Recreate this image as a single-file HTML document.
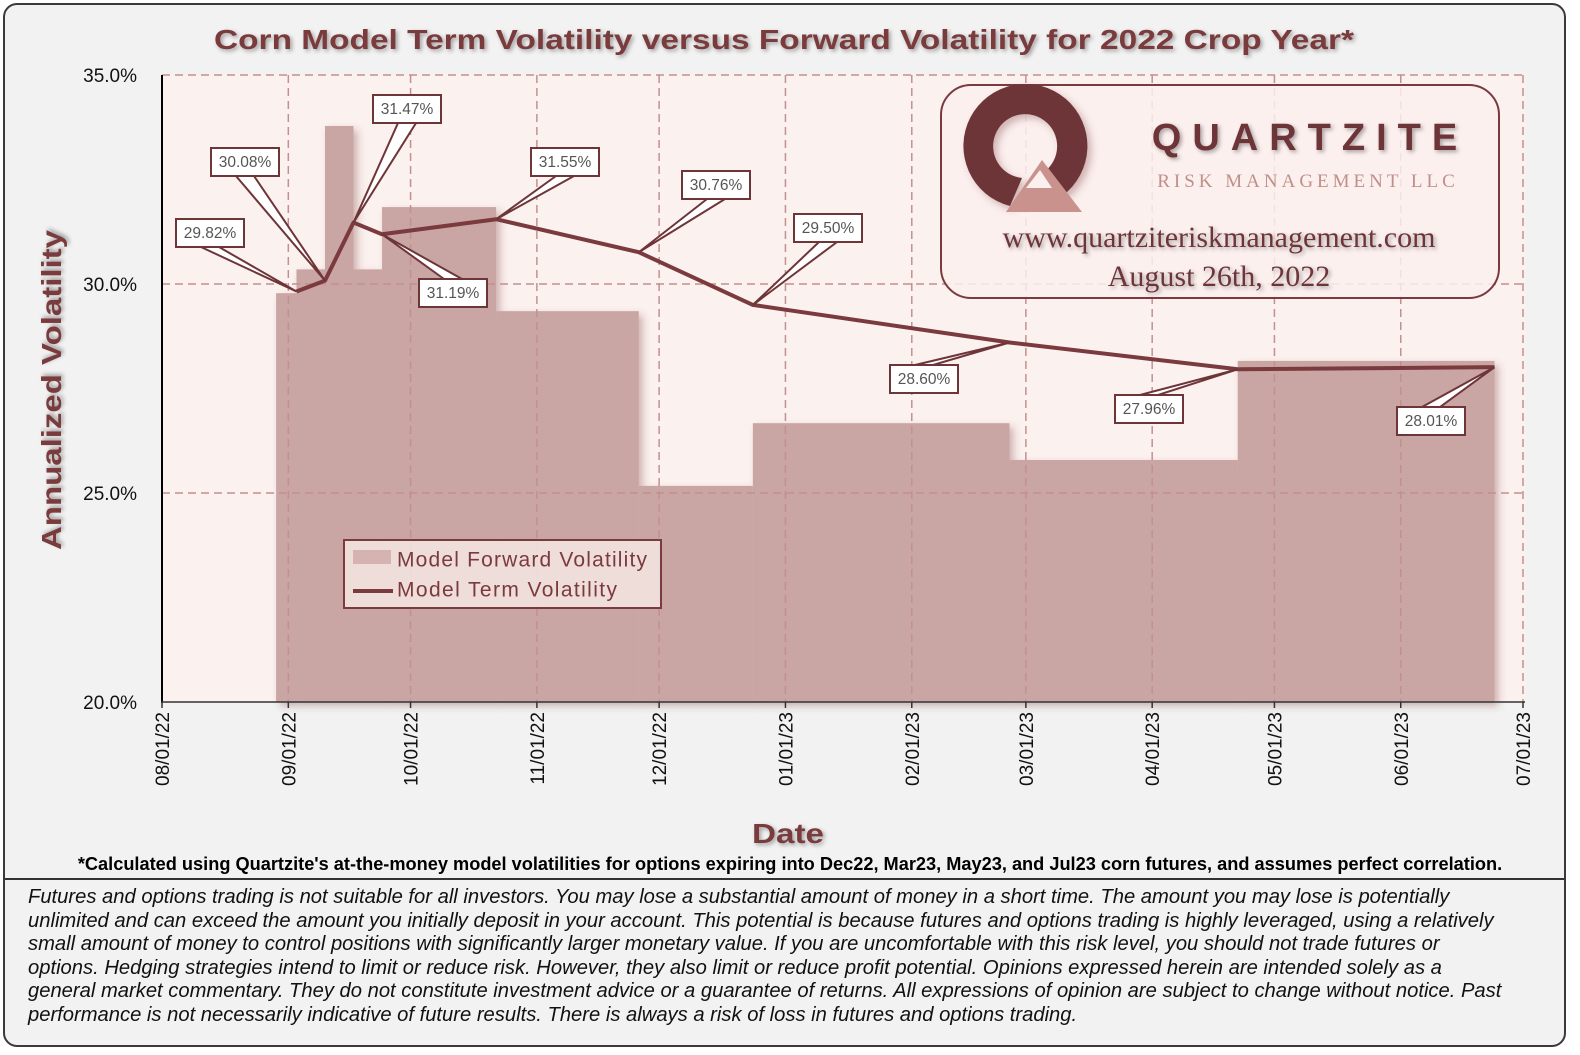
<!DOCTYPE html>
<html><head><meta charset="utf-8">
<style>
html,body{margin:0;padding:0;background:#fff;}
body{width:1580px;height:1055px;position:relative;overflow:hidden;font-family:"Liberation Sans",sans-serif;}
#frame{position:absolute;left:3px;top:3px;width:1559px;height:1040px;border:2px solid #3a3a3a;border-radius:14px;background:#f2f2f2;}
#disc{position:absolute;left:28px;top:886px;width:1530px;font-style:italic;font-size:20.2px;line-height:23.6px;color:#111;white-space:nowrap;}
#foot{position:absolute;left:0;width:1580px;top:854px;text-align:center;font-weight:bold;font-size:18.2px;color:#000;white-space:nowrap;}
#sep{position:absolute;left:5px;top:878px;width:1559px;height:0;border-top:2px solid #333;}
</style></head><body>
<div id="frame"></div>
<svg id="chart" width="1580" height="1055" style="position:absolute;left:0;top:0">
<defs>
<filter id="sh" x="-20%" y="-20%" width="140%" height="140%"><feDropShadow dx="4" dy="4" stdDeviation="4" flood-color="#7a3a3e" flood-opacity="0.35"/></filter>
<filter id="tsh" x="-10%" y="-30%" width="120%" height="160%"><feDropShadow dx="2" dy="2" stdDeviation="2" flood-color="#000" flood-opacity="0.35"/></filter>
</defs>
<rect x="162" y="75" width="1363" height="627" fill="#fbf1ef"/>
<g id="grid"></g>
<g id="bars" filter="url(#sh)"></g>
<g id="gridTop"></g>
<g id="logo">
<rect x="941" y="85" width="558" height="213" rx="30" fill="#fbf0ee" fill-opacity="0.85" stroke="#7a3a3e" stroke-width="2"/>
<path d="M1010,206 A62,62 0 1 1 1062,196 L1044,172 A32,32 0 1 0 1022,178 Z" fill="#6e3538" filter="url(#sh)"/>
<polygon points="1006,212 1042,160 1082,212" fill="#c9928c"/>
<polygon points="1026,188 1040,170 1052,188" fill="#fbf0ee"/>
<text x="1310" y="150" text-anchor="middle" font-family="Liberation Sans" font-weight="bold" font-size="38" letter-spacing="11" fill="#6e3538" filter="url(#tsh)">QUARTZITE</text>
<text x="1308" y="187" text-anchor="middle" font-family="Liberation Serif" font-size="19" letter-spacing="4" fill="#c08f89">RISK MANAGEMENT LLC</text>
<text x="1219" y="247" text-anchor="middle" font-family="Liberation Serif" font-size="30" fill="#6e3538" filter="url(#tsh)">www.quartziteriskmanagement.com</text>
<text x="1219" y="286" text-anchor="middle" font-family="Liberation Serif" font-size="30" fill="#6e3538" filter="url(#tsh)">August 26th, 2022</text>
</g>
<g id="line"></g>
<g id="labels"></g>
<g id="legend">
<rect x="344" y="540" width="317" height="68" fill="#f6e6e4" fill-opacity="0.85" stroke="#7a3a3e" stroke-width="2"/>
<rect x="353" y="550" width="38" height="14" fill="#d4b3b1"/>
<text x="397" y="561" font-size="21" fill="#7a3a3e" dominant-baseline="middle" textLength="250">Model Forward Volatility</text>
<line x1="353" y1="591" x2="393" y2="591" stroke="#7a3a3e" stroke-width="4"/>
<text x="397" y="591" font-size="21" fill="#7a3a3e" dominant-baseline="middle" textLength="220">Model Term Volatility</text>
</g>
<line x1="162" y1="75" x2="162" y2="703" stroke="#000" stroke-width="2"/>
<line x1="161" y1="702" x2="1525" y2="702" stroke="#333" stroke-width="1.5"/>
<g id="axes"></g>
<text x="784" y="49" text-anchor="middle" font-weight="bold" font-size="28" fill="#7a3a3e" filter="url(#tsh)" textLength="1140" lengthAdjust="spacingAndGlyphs">Corn Model Term Volatility versus Forward Volatility for 2022 Crop Year*</text>
<text transform="translate(61,390) rotate(-90)" text-anchor="middle" font-weight="bold" font-size="28" fill="#7a3a3e" filter="url(#tsh)" textLength="320" lengthAdjust="spacingAndGlyphs">Annualized Volatility</text>
<text x="788" y="843" text-anchor="middle" font-weight="bold" font-size="28" fill="#7a3a3e" filter="url(#tsh)" textLength="72" lengthAdjust="spacingAndGlyphs">Date</text>
</svg>
<div id="foot">*Calculated using Quartzite's at-the-money model volatilities for options expiring into Dec22, Mar23, May23, and Jul23 corn futures, and assumes perfect correlation.</div>
<div id="sep"></div>
<div id="disc">Futures and options trading is not suitable for all investors. You may lose a substantial amount of money in a short time. The amount you may lose is potentially<br>unlimited and can exceed the amount you initially deposit in your account. This potential is because futures and options trading is highly leveraged, using a relatively<br>small amount of money to control positions with significantly larger monetary value. If you are uncomfortable with this risk level, you should not trade futures or<br>options. Hedging strategies intend to limit or reduce risk. However, they also limit or reduce profit potential. Opinions expressed herein are intended solely as a<br>general market commentary. They do not constitute investment advice or a guarantee of returns. All expressions of opinion are subject to change without notice. Past<br>performance is not necessarily indicative of future results. There is always a risk of loss in futures and options trading.</div>
<script>
const tickDates=['2022-08-01','2022-09-01','2022-10-01','2022-11-01','2022-12-01','2023-01-01','2023-02-01','2023-03-01','2023-04-01','2023-05-01','2023-06-01','2023-07-01'];
const tickLabels=['08/01/22','09/01/22','10/01/22','11/01/22','12/01/22','01/01/23','02/01/23','03/01/23','04/01/23','05/01/23','06/01/23','07/01/23'];
const yTicks=[20,25,30,35];
const yTickLabels=['20.0%','25.0%','30.0%','35.0%'];
const termDates=['2022-09-03','2022-09-10','2022-09-17','2022-09-24','2022-10-22','2022-11-26','2022-12-24','2023-02-25','2023-04-22','2023-06-24'];
const termValues=[29.82,30.08,31.47,31.19,31.55,30.76,29.50,28.60,27.96,28.01];
const termLabels=['29.82%','30.08%','31.47%','31.19%','31.55%','30.76%','29.50%','28.60%','27.96%','28.01%'];
const forwardStart='2022-08-29';
const forwardValues=[29.78,30.35,33.78,30.35,31.84,29.35,25.17,26.67,25.79,28.16];
const labelBoxes=[[176,219],[211,148],[373,95],[419,279],[531,148],[682,171],[794,214],[890,365],[1115,395],[1397,407]];

const NS='http://www.w3.org/2000/svg';
const d0=Date.UTC(2022,7,1), d1=Date.UTC(2023,6,1);
function day(s){const p=s.split('-');return Date.UTC(+p[0],+p[1]-1,+p[2]);}
function X(s){return 162+(day(s)-d0)/(d1-d0)*1361;}
function Y(v){return 702-(v-20)/15*627;}
function el(t,a,parent){const e=document.createElementNS(NS,t);for(const k in a)e.setAttribute(k,a[k]);document.getElementById(parent).appendChild(e);return e;}

tickDates.forEach((d,i)=>{
  if(i===0)return;
  const g=el('line',{x1:X(d),x2:X(d),y1:75,y2:702,stroke:'#c4908f','stroke-width':1.5,'stroke-dasharray':'8,5'},'gridTop');
  
  
});
yTicks.forEach(v=>{
  if(v===20)return;
  const g=el('line',{x1:162,x2:1525,y1:Y(v),y2:Y(v),stroke:'#c4908f','stroke-width':1.5,'stroke-dasharray':'8,5'},'gridTop');
  
  
});
forwardValues.forEach((v,i)=>{
  const xa=X(i===0?forwardStart:termDates[i-1]), xb=X(termDates[i]);
  const r=el('rect',{x:xa,y:Y(v),width:xb-xa,height:702-Y(v),fill:'#c9a5a3'},'bars');
  
  
});
const pts=termDates.map((d,i)=>X(d)+','+Y(termValues[i])).join(' ');
const pl=el('polyline',{points:pts,fill:'none',stroke:'#7a3a3e','stroke-width':4,'stroke-linejoin':'round'},'line');


termValues.forEach((v,i)=>{
  const px=X(termDates[i]), py=Y(v);
  const bx=labelBoxes[i][0], by=labelBoxes[i][1], w=68, h=28;
  const cx=bx+w/2, cy=by+h/2;
  let base;
  if(Math.abs(py-cy)>Math.abs(px-cx)*0.35){
    const ey=py>cy?by+h:by;
    base=[[cx-9,ey],[cx+9,ey]];
  } else {
    const ex=px>cx?bx+w:bx;
    base=[[ex,cy-7],[ex,cy+7]];
  }
  const tri=el('polygon',{points:base[0].join(',')+' '+px+','+py+' '+base[1].join(','),fill:'#fff',stroke:'#6e3538','stroke-width':2},'labels');
  
  
  const r=el('rect',{x:bx,y:by,width:w,height:h,fill:'#fff',stroke:'#6e3538','stroke-width':2},'labels');
  
  
  const t=el('text',{x:cx,y:cy+1,'text-anchor':'middle','dominant-baseline':'middle','font-size':15.5,fill:'#555'},'labels');
  t.textContent=termLabels[i];
  
  
});
tickDates.forEach((d,i)=>{
  const x=X(d);
  const tk=el('line',{x1:x,x2:x,y1:702,y2:708,stroke:'#333','stroke-width':1.5},'axes');
  
  
  const t=el('text',{transform:'translate('+(x+7)+',712) rotate(-90)','text-anchor':'end','font-size':19,fill:'#111'},'axes');
  t.textContent=tickLabels[i];
  
  
});
yTicks.forEach((v,i)=>{
  const t=el('text',{x:137,y:Y(v)+7,'text-anchor':'end','font-size':19,fill:'#111'},'axes');
  t.textContent=yTickLabels[i];
  
  
});
</script>
</body></html>
